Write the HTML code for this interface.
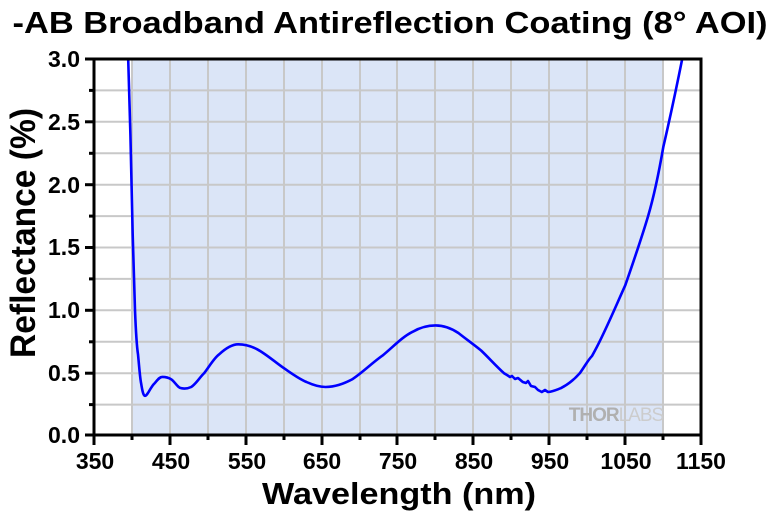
<!DOCTYPE html>
<html><head><meta charset="utf-8"><style>body{margin:0;background:#fff}svg{display:block}text{font-family:"Liberation Sans",Arial,sans-serif;font-weight:bold;fill:#000}</style></head><body>
<svg width="780" height="514" viewBox="0 0 780 514" xmlns="http://www.w3.org/2000/svg">
<rect x="132" y="59" width="531" height="376" fill="#dbe5f7"/>
<g stroke="#c8c8c8" stroke-width="2">
<line x1="132" y1="59" x2="132" y2="435"/><line x1="170" y1="59" x2="170" y2="435"/><line x1="208" y1="59" x2="208" y2="435"/><line x1="246" y1="59" x2="246" y2="435"/><line x1="284" y1="59" x2="284" y2="435"/><line x1="322" y1="59" x2="322" y2="435"/><line x1="360" y1="59" x2="360" y2="435"/><line x1="397" y1="59" x2="397" y2="435"/><line x1="435" y1="59" x2="435" y2="435"/><line x1="473" y1="59" x2="473" y2="435"/><line x1="511" y1="59" x2="511" y2="435"/><line x1="549" y1="59" x2="549" y2="435"/><line x1="587" y1="59" x2="587" y2="435"/><line x1="625" y1="59" x2="625" y2="435"/><line x1="663" y1="59" x2="663" y2="435"/>
<line x1="94" y1="90.4" x2="701" y2="90.4"/><line x1="94" y1="121.8" x2="701" y2="121.8"/><line x1="94" y1="153.3" x2="701" y2="153.3"/><line x1="94" y1="184.7" x2="701" y2="184.7"/><line x1="94" y1="216.1" x2="701" y2="216.1"/><line x1="94" y1="247.5" x2="701" y2="247.5"/><line x1="94" y1="278.9" x2="701" y2="278.9"/><line x1="94" y1="310.3" x2="701" y2="310.3"/><line x1="94" y1="341.8" x2="701" y2="341.8"/><line x1="94" y1="373.2" x2="701" y2="373.2"/><line x1="94" y1="404.6" x2="701" y2="404.6"/>
</g>
<text x="616" y="421" font-size="19" style="fill:#b0b0b0" text-anchor="middle" letter-spacing="-1">THOR<tspan font-weight="normal" style="fill:#cccccc">LABS</tspan></text>
<path d="M128.2,59 L130.4,134.4 L132.7,234.9 L135,310.3 C136,335 137,348 138,354.3 C139.5,370 140,378 141.1,383.2 C142.5,392 143.5,395.8 144.9,395.8 C146.5,395.8 147.5,393.5 148.6,392 C151,388 152.5,385 154.7,383.2 C157.5,380 159.5,376.9 162.3,376.9 C166,376.9 168.5,377.5 171.4,379.4 C175,382 178,388.2 181.3,388.2 C185,389 188,388.5 191.2,387 C196,384 200,377 204.1,373.2 C209,367 214,358 219.2,354.3 C226,348 232,344.3 238.2,344.3 C245,344.3 251,346 257.2,349.3 C266,354 275,362 283.8,368.1 C291,373 299,379 306.5,382 C313,385 319,387 325.5,387 C335,387 343,384 352.1,379.4 C362,373 372,363 382.5,355.6 C393,347 402,337 412.8,331.7 C420,327.5 428,325.4 435.6,325.4 C443,325.4 451,328 458.4,333 C466,339 473,344 481.1,350.5 C489,358 496,366 504,373.2 L507,375 L510,377 L512,376 L515,379 L518,378 L522.8,382 L526,383 L528,381 L531,386 L535,387 L538,390 L541.8,392 L545,390 L548,392 C553,391.5 556,390 560.8,388.2 C567,385 573,381 579.8,373.2 C585,366 588,360 592,356 L595,350.5 C605,332 615,308 625.3,285.2 C633,263 641,240 648.1,216.1 C654,196 659,172 663.3,147 C670,118 676,90 682.2,59" fill="none" stroke="#0000ff" stroke-width="2.6" stroke-linejoin="round"/>
<g stroke="#000" stroke-width="3" fill="none">
<line x1="92.5" y1="59" x2="701" y2="59"/><line x1="94" y1="57.5" x2="94" y2="436.5"/><line x1="92.5" y1="435" x2="701" y2="435"/><line x1="701" y1="57.5" x2="701" y2="445"/>
</g>
<g stroke="#000" stroke-width="3">
<line x1="85" y1="59" x2="94" y2="59"/><line x1="85" y1="121.8" x2="94" y2="121.8"/><line x1="85" y1="184.7" x2="94" y2="184.7"/><line x1="85" y1="247.5" x2="94" y2="247.5"/><line x1="85" y1="310.3" x2="94" y2="310.3"/><line x1="85" y1="373.2" x2="94" y2="373.2"/><line x1="85" y1="435" x2="94" y2="435"/>
<line x1="89" y1="90.4" x2="94" y2="90.4"/><line x1="89" y1="153.3" x2="94" y2="153.3"/><line x1="89" y1="216.1" x2="94" y2="216.1"/><line x1="89" y1="278.9" x2="94" y2="278.9"/><line x1="89" y1="341.8" x2="94" y2="341.8"/><line x1="89" y1="404.6" x2="94" y2="404.6"/>
<line x1="94" y1="435" x2="94" y2="445"/><line x1="170" y1="435" x2="170" y2="445"/><line x1="246" y1="435" x2="246" y2="445"/><line x1="322" y1="435" x2="322" y2="445"/><line x1="397" y1="435" x2="397" y2="445"/><line x1="473" y1="435" x2="473" y2="445"/><line x1="549" y1="435" x2="549" y2="445"/><line x1="625" y1="435" x2="625" y2="445"/>
<line x1="132" y1="435" x2="132" y2="440"/><line x1="208" y1="435" x2="208" y2="440"/><line x1="284" y1="435" x2="284" y2="440"/><line x1="360" y1="435" x2="360" y2="440"/><line x1="435" y1="435" x2="435" y2="440"/><line x1="511" y1="435" x2="511" y2="440"/><line x1="587" y1="435" x2="587" y2="440"/><line x1="663" y1="435" x2="663" y2="440"/>
</g>
<text x="390" y="33" font-size="31" text-anchor="middle" textLength="755" lengthAdjust="spacingAndGlyphs">-AB Broadband Antireflection Coating (8° AOI)</text>
<g font-size="23" text-anchor="end">
<text x="80" y="67">3.0</text><text x="80" y="130">2.5</text><text x="80" y="193">2.0</text><text x="80" y="255">1.5</text><text x="80" y="318">1.0</text><text x="80" y="381">0.5</text><text x="80" y="443">0.0</text>
</g>
<g font-size="23" text-anchor="middle">
<text x="95" y="469">350</text><text x="171" y="469">450</text><text x="247" y="469">550</text><text x="322" y="469">650</text><text x="398" y="469">750</text><text x="474" y="469">850</text><text x="550" y="469">950</text><text x="626" y="469">1050</text><text x="701" y="469">1150</text>
</g>
<text x="399" y="504" font-size="31" text-anchor="middle" textLength="274" lengthAdjust="spacingAndGlyphs">Wavelength (nm)</text>
<text transform="translate(35,233) rotate(-90)" font-size="35" text-anchor="middle" textLength="250" lengthAdjust="spacingAndGlyphs">Reflectance (%)</text>
</svg>
</body></html>
